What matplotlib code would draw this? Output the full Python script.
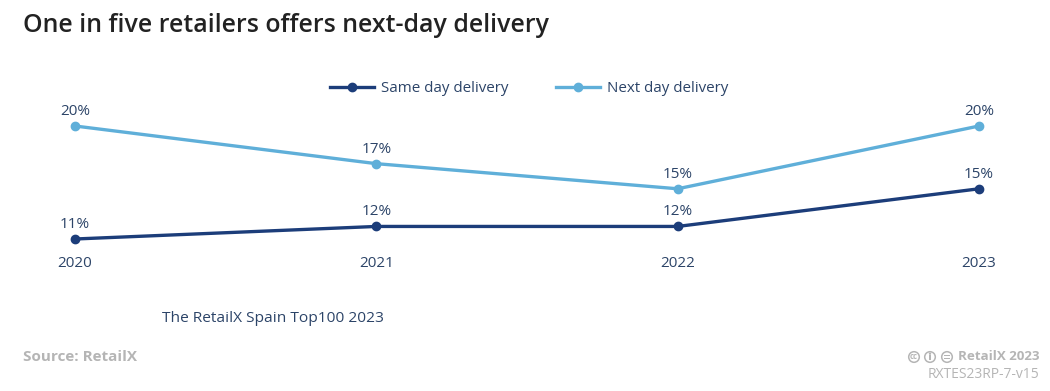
#!/usr/bin/env python3
"""One in five retailers offers next-day delivery."""

import matplotlib
matplotlib.use("Agg")
import matplotlib.pyplot as plt
from matplotlib.patches import Circle, Rectangle

years = ["2020", "2021", "2022", "2023"]
same_day = [11, 12, 12, 15]
next_day = [20, 17, 15, 20]

DARK = "#1c3d7a"
LIGHT = "#5fafd9"
TEXT = "#2c4468"
GREY = "#b5b5b5"

plt.rcParams["font.family"] = ["Open Sans", "DejaVu Sans"]

fig = plt.figure(figsize=(10.5, 3.91), dpi=100)
ax = fig.add_axes([75 / 1050, 1 - 239 / 391, (979 - 75) / 1050, (239 - 126) / 391])
x = range(len(years))

ax.plot(x, same_day, color=DARK, lw=2.4, marker="o", ms=6, label="Same day delivery", clip_on=False)
ax.plot(x, next_day, color=LIGHT, lw=2.4, marker="o", ms=6, label="Next day delivery", clip_on=False)

for i, year in enumerate(years):
    ax.annotate(f"{same_day[i]}%", (i, same_day[i]), xytext=(0, 5), textcoords="offset points",
                ha="center", va="bottom", fontsize=11, color=TEXT)
    ax.annotate(f"{next_day[i]}%", (i, next_day[i]), xytext=(0, 5), textcoords="offset points",
                ha="center", va="bottom", fontsize=11, color=TEXT)

ax.set_xlim(0, 3)
ax.set_ylim(11, 20)
ax.set_xticks(list(x), years)
ax.set_yticks([])
ax.tick_params(axis="x", length=0, pad=12, labelsize=11, labelcolor=TEXT)
for side in ax.spines.values():
    side.set_visible(False)
ax.patch.set_alpha(0)

fig.legend(loc="center", bbox_to_anchor=(529 / 1050, 1 - 88.5 / 391), ncol=2, frameon=False,
           fontsize=10.9, labelcolor=TEXT, handlelength=2.95, columnspacing=3.1, handletextpad=0.45)

fig.text(23 / 1050, 1 - 25 / 391, "One in five retailers offers next-day delivery",
         fontsize=17.95, fontweight="semibold", color="#222222", va="center")
fig.text(162 / 1050, 1 - 318 / 391, "The RetailX Spain Top100 2023", fontsize=11.15, color=TEXT, va="center")
fig.text(23 / 1050, 1 - 357 / 391, "Source: RetailX", fontsize=11, fontweight="bold", color=GREY, va="center")
fig.text(1039 / 1050, 1 - 357 / 391, "RetailX 2023", fontsize=9.6, fontweight="bold", color=GREY, va="center", ha="right")
fig.text(1039 / 1050, 1 - 374 / 391, "RXTES23RP-7-v15", fontsize=10, color=GREY, va="center", ha="right")

# licence badges next to the copyright line, drawn in pixel space
badge = fig.add_axes([0, 0, 1, 1], facecolor="none")
badge.set_xlim(0, 1050)
badge.set_ylim(391, 0)
badge.axis("off")
for cx in [914, 930, 947]:
    badge.add_patch(Circle((cx, 357), 5.3, fc="none", ec=GREY, lw=1.1))
badge.text(914, 356.7, "cc", fontsize=5.5, fontweight="bold", color=GREY, ha="center", va="center")
badge.add_patch(Circle((930, 353.7), 1.2, fc=GREY, ec="none"))
badge.add_patch(Rectangle((928.6, 355.4), 2.8, 5, fc=GREY, ec="none"))
badge.add_patch(Rectangle((944, 355.2), 6, 1.1, fc=GREY, ec="none"))
badge.add_patch(Rectangle((944, 357.9), 6, 1.1, fc=GREY, ec="none"))

fig.savefig("out.png", dpi=100)
